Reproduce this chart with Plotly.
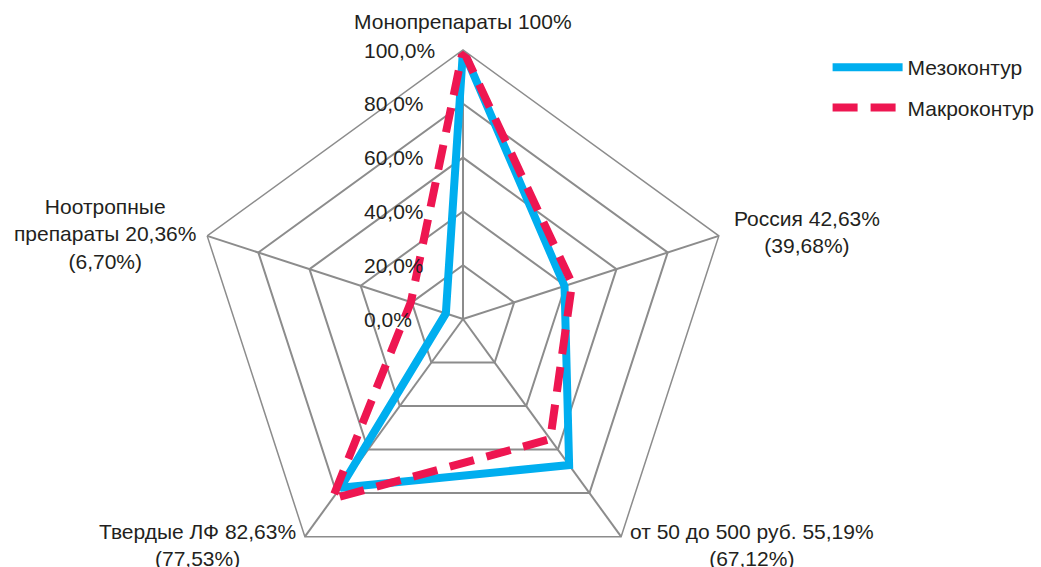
import math
import plotly.graph_objects as go

# Category axis (clockwise from the top) and the two series, in percent
categories = ["Монопрепараты", "Россия", "от 50 до 500 руб.", "Твердые ЛФ", "Ноотропные препараты"]
macro_values = [100.0, 42.63, 55.19, 82.63, 20.36]   # Макроконтур
meso_values = [100.0, 39.68, 67.12, 77.53, 6.70]     # Мезоконтур
radial_ticks = [0, 20, 40, 60, 80, 100]
radial_tick_labels = ["0,0%", "20,0%", "40,0%", "60,0%", "80,0%", "100,0%"]


def pct(v):
    return f"{v:.2f}".replace(".", ",") + "%"


category_labels = [
    "Монопрепараты 100%",
    f"Россия {pct(macro_values[1])}<br>({pct(meso_values[1])})",
    f"от 50 до 500 руб. {pct(macro_values[2])}<br>({pct(meso_values[2])})",
    f"Твердые ЛФ {pct(macro_values[3])}<br>({pct(meso_values[3])})",
    f"Ноотропные<br>препараты {pct(macro_values[4])}<br>({pct(meso_values[4])})",
]

W, H = 1041, 590
CX, CY, R = 463, 319, 269          # polar centre / radius in pixels (from top-left)
FONT = "Liberation Sans, Arial, sans-serif"
TEXT = "#231f20"
GRID = "#8c8c8c"
BLUE = "#00aeef"
RED = "#ee1651"


def to_paper(px, py):
    return px / W, 1 - py / H


def polar_px(r, k):
    a = math.radians(360 * k / len(categories))
    rr = R * r / 100
    return CX + rr * math.sin(a), CY - rr * math.cos(a)


theta_closed = categories + categories[:1]

fig = go.Figure()
fig.add_trace(go.Scatterpolar(
    r=meso_values + meso_values[:1], theta=theta_closed, mode="lines",
    name="Мезоконтур", legendgroup="meso",
    line=dict(color=BLUE, width=8),
))
fig.add_trace(go.Scatterpolar(
    r=macro_values + macro_values[:1], theta=theta_closed, mode="lines",
    name="Макроконтур", legendgroup="macro",
    line=dict(color=RED, width=8, dash="25px,13px"),
))

x0, y0 = (CX - R) / W, 1 - (CY + R) / H
x1, y1 = (CX + R) / W, 1 - (CY - R) / H

annotations = []
# category labels around the outer ring
label_offsets = [
    (0, 28),
    (88, 4),
    (131, -8),
    (-107, -8),
    (-102, 2),
]
for k, text in enumerate(category_labels):
    vx, vy = polar_px(100, k)
    dx, dy = label_offsets[k]
    px, py = to_paper(vx + dx, vy - dy)
    annotations.append(dict(
        x=px, y=py, xref="paper", yref="paper", text=text, showarrow=False,
        xanchor="center", yanchor="middle", align="center",
        font=dict(family=FONT, size=21, color=TEXT),
    ))

# radial value labels to the left of the vertical spoke
for r, text in zip(radial_ticks, radial_tick_labels):
    _, vy = polar_px(r, 0)
    px, py = to_paper(CX - 101, vy)
    annotations.append(dict(
        x=px, y=py, xref="paper", yref="paper", text=text, showarrow=False,
        xanchor="left", yanchor="middle",
        font=dict(family=FONT, size=21, color=TEXT),
    ))

fig.update_layout(
    width=W, height=H,
    margin=dict(l=0, r=0, t=0, b=0),
    paper_bgcolor="white",
    font=dict(family=FONT, size=21, color=TEXT),
    polar=dict(
        domain=dict(x=[x0, x1], y=[y0, y1]),
        bgcolor="white",
        gridshape="linear",
        radialaxis=dict(
            range=[0, 100], tickvals=radial_ticks, showticklabels=False,
            ticks="", showline=False, gridcolor=GRID, gridwidth=1.5,
        ),
        angularaxis=dict(
            direction="clockwise", rotation=90, showticklabels=False, ticks="",
            showline=True, linecolor=GRID, linewidth=1.5,
            gridcolor=GRID, gridwidth=1.5,
        ),
    ),
    legend=dict(
        x=0.795, y=1 - 47 / H, xanchor="left", yanchor="top",
        traceorder="grouped", tracegroupgap=10, itemwidth=70,
        font=dict(family=FONT, size=21, color=TEXT), bgcolor="rgba(0,0,0,0)",
    ),
    annotations=annotations,
    showlegend=True,
)

fig.write_html("out.html")
